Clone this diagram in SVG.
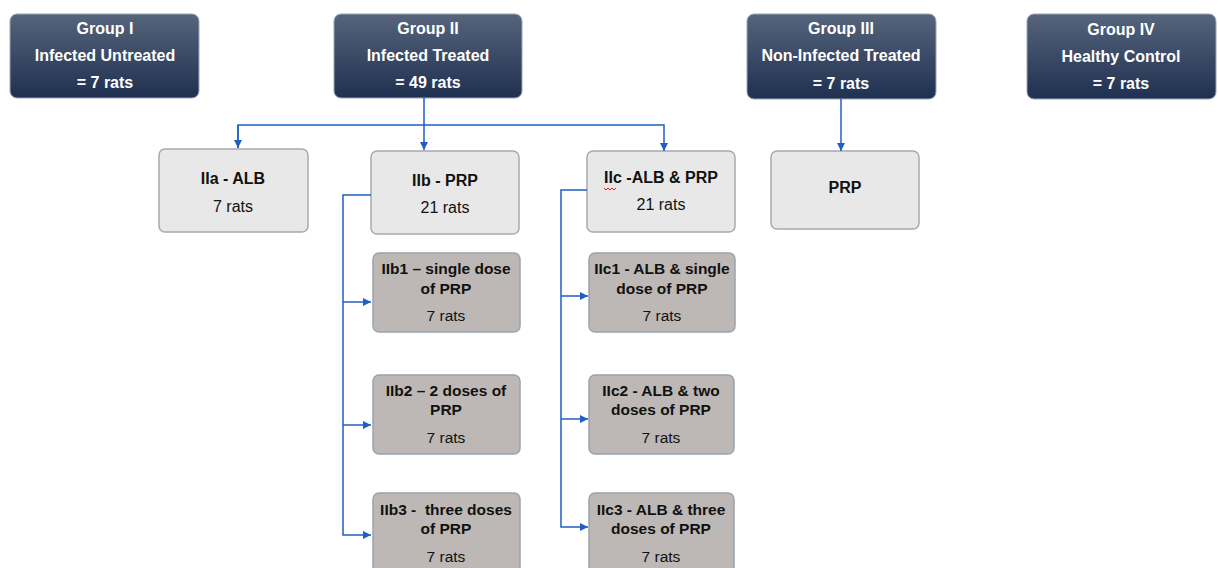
<svg xmlns="http://www.w3.org/2000/svg" width="1218" height="568" viewBox="0 0 1218 568">
<defs>
<linearGradient id="navy" x1="0" y1="0" x2="0" y2="1">
<stop offset="0" stop-color="#56647c"/>
<stop offset="1" stop-color="#1f3050"/>
</linearGradient>
<marker id="arr" markerWidth="9" markerHeight="9" refX="8" refY="4.5" orient="auto" markerUnits="userSpaceOnUse">
<path d="M0,0.5 L8,4.5 L0,8.5 Z" fill="#1f5fc4"/>
</marker>
<style>
.hdr rect{fill:url(#navy);stroke:#9aa6b8;stroke-width:1}
.hdr text{fill:#ffffff;font-family:"Liberation Sans",Arial,sans-serif;font-weight:bold;font-size:16px;text-anchor:middle}
.lt rect{fill:#e8e8e8;stroke:#a3aab3;stroke-width:1.5}
.gr rect{fill:#bdb8b5;stroke:#9aa3ad;stroke-width:1.5}
.lt text{fill:#111;font-family:"Liberation Sans",Arial,sans-serif;font-size:16px;text-anchor:middle}
.gr text{fill:#111;font-family:"Liberation Sans",Arial,sans-serif;font-size:15.5px;text-anchor:middle}
.b{font-weight:bold}
.con path{fill:none;stroke:#1f5fc4;stroke-width:1.5}
</style>
</defs>
<rect width="1218" height="568" fill="#ffffff"/>

<g id="group1" class="hdr">
<rect x="10" y="14" width="189" height="84" rx="7"/>
<text x="105" y="34">Group I</text>
<text x="105" y="61">Infected Untreated</text>
<text x="105" y="88">= 7 rats</text>
</g>
<g id="group2" class="hdr">
<rect x="334" y="14" width="188" height="84" rx="7"/>
<text x="428" y="34">Group II</text>
<text x="428" y="61">Infected Treated</text>
<text x="428" y="88">= 49 rats</text>
</g>
<g id="group3" class="hdr">
<rect x="747" y="14" width="189" height="85" rx="7"/>
<text x="841" y="34">Group III</text>
<text x="841" y="61">Non-Infected Treated</text>
<text x="841" y="89">= 7 rats</text>
</g>
<g id="group4" class="hdr">
<rect x="1027" y="14" width="189" height="85" rx="7"/>
<text x="1121" y="35">Group IV</text>
<text x="1121" y="62">Healthy Control</text>
<text x="1121" y="89">= 7 rats</text>
</g>

<g id="IIa" class="lt">
<rect x="159" y="149" width="149" height="83" rx="6"/>
<text x="233" y="184" class="b">IIa - ALB</text>
<text x="233" y="212">7 rats</text>
</g>
<g id="IIb" class="lt">
<rect x="371" y="151" width="148" height="83" rx="6"/>
<text x="445" y="186" class="b">IIb - PRP</text>
<text x="445" y="213">21 rats</text>
</g>
<g id="IIc" class="lt">
<rect x="587" y="151" width="148" height="81" rx="6"/>
<text x="661" y="183" class="b">IIc -ALB &amp; PRP</text>
<text x="661" y="210">21 rats</text>
<path d="M604,188 l2,2 l2,-2 l2,2 l2,-2 l2,2 l2,-2" fill="none" stroke="#e02020" stroke-width="1"/>
</g>
<g id="PRP" class="lt">
<rect x="771" y="151" width="148" height="78" rx="6"/>
<text x="845" y="193" class="b">PRP</text>
</g>

<g id="IIb1" class="gr">
<rect x="373" y="253" width="147" height="79" rx="6"/>
<text x="446" y="274" class="b">IIb1 – single dose</text>
<text x="446" y="294" class="b">of PRP</text>
<text x="446" y="321">7 rats</text>
</g>
<g id="IIb2" class="gr">
<rect x="373" y="375" width="147" height="79" rx="6"/>
<text x="446" y="396" class="b">IIb2 – 2 doses of</text>
<text x="446" y="415" class="b">PRP</text>
<text x="446" y="443">7 rats</text>
</g>
<g id="IIb3" class="gr">
<rect x="373" y="493" width="147" height="85" rx="6"/>
<text x="446" y="515" class="b" xml:space="preserve">IIb3 -  three doses</text>
<text x="446" y="534" class="b">of PRP</text>
<text x="446" y="562">7 rats</text>
</g>
<g id="IIc1" class="gr">
<rect x="589" y="253" width="146" height="79" rx="6"/>
<text x="662" y="274" class="b">IIc1 - ALB &amp; single</text>
<text x="662" y="294" class="b">dose of PRP</text>
<text x="662" y="321">7 rats</text>
</g>
<g id="IIc2" class="gr">
<rect x="589" y="375" width="145" height="79" rx="6"/>
<text x="661" y="396" class="b">IIc2 - ALB &amp; two</text>
<text x="661" y="415" class="b">doses of PRP</text>
<text x="661" y="443">7 rats</text>
</g>
<g id="IIc3" class="gr">
<rect x="589" y="493" width="145" height="85" rx="6"/>
<text x="661" y="515" class="b">IIc3 - ALB &amp; three</text>
<text x="661" y="534" class="b">doses of PRP</text>
<text x="661" y="562">7 rats</text>
</g>

<g id="connectors" class="con">
<path d="M424,98 V150" marker-end="url(#arr)"/>
<path d="M238,148 V125 H664 V151" marker-end="url(#arr)"/>
<path d="M238,125 V148" marker-end="url(#arr)"/>
<path d="M841,99 V151" marker-end="url(#arr)"/>
<path d="M371,195 H343 V535 H371" marker-end="url(#arr)"/>
<path d="M343,302 H371" marker-end="url(#arr)"/>
<path d="M343,425 H371" marker-end="url(#arr)"/>
<path d="M587,190 H561 V527 H588" marker-end="url(#arr)"/>
<path d="M561,296 H588" marker-end="url(#arr)"/>
<path d="M561,419 H588" marker-end="url(#arr)"/>
</g>
</svg>
